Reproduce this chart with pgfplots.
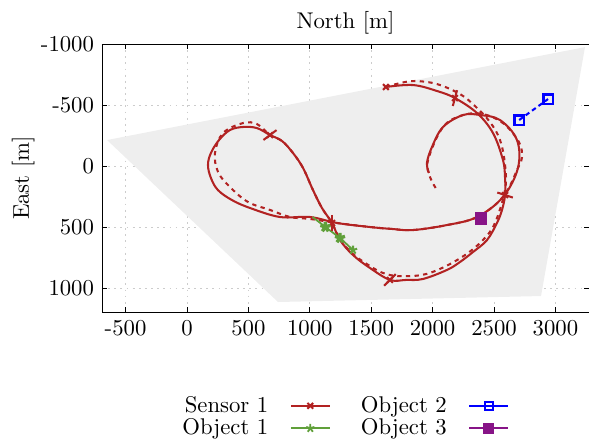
\documentclass[border=0pt]{standalone}
\usepackage{pgfplots}
\pgfplotsset{compat=1.18}
\definecolor{sred}{RGB}{178,34,34}
\definecolor{ogreen}{RGB}{96,160,58}
\definecolor{opurple}{RGB}{135,20,135}
\begin{document}
\begin{tikzpicture}[x=0.44pt,y=0.44pt]
\begin{axis}[
  scale only axis, width=214.3pt, height=117.9pt,
  at={(0,0)}, anchor=south west,
  xmin=-692, xmax=3274, ymin=-1000, ymax=1197, y dir=reverse,
  xtick={-500,0,500,1000,1500,2000,2500,3000},
  xticklabels={-500,0,500,1000,1500,2000,2500,3000},
  ytick={-1000,-500,0,500,1000},
  yticklabels={-1000,-500,0,500,1000},
  tick align=inside, tick style={black,line width=0.3pt},
  major tick length=2.2pt,
  grid=major,
  grid style={dash pattern=on 0.8pt off 1.9pt,gray!40,line width=0.4pt},
  title={North [m]},
  title style={yshift=-5.4pt},
  ylabel={East [m]},
  ylabel style={yshift=-4.1pt},
  clip=true,
  legend columns=2, transpose legend,
  legend plot pos=right,
  legend style={draw=none,fill=none,at={(0.496,-0.392)},anchor=center,
    row sep=-2.7pt,
    /tikz/every odd column/.append style={column sep=7.5pt},
    /tikz/every even column/.append style={column sep=11.3pt}},
  legend cell align=right,
]
\addplot[fill=black!6.5,draw=none,forget plot] coordinates {(-651,-213)(3241,-975)(2883,1066)(741,1115)} -- cycle;
\addplot[sred,line width=0.9pt,smooth,tension=0.6,mark=x,mark size=1.8pt,mark options={solid,line width=0.9pt},mark indices={1,4,9,18,22,28},forget plot] coordinates {
(1620,-648)(1840,-664)(2036,-615)(2182,-557)(2362,-434)(2492,-270)(2573,-49)(2590,98)(2590,238)(2565,361)(2524,467)(2443,607)(2329,705)(2223,787)(2117,852)(1922,926)(1783,934)(1653,934)(1490,836)(1352,730)(1246,607)(1181,467)(1099,344)(1026,197)(945,16)(863,-107)(774,-205)(676,-254)(570,-311)(456,-320)(350,-295)(261,-213)(195,-107)(171,-8)(195,98)(252,197)(366,279)(513,344)(757,418)(1002,418)(1221,467)(1490,500)(1669,516)(1840,525)(2117,484)(2362,418)(2573,254)(2695,16)(2687,-213)(2549,-377)(2386,-418)(2248,-418)(2085,-320)(1995,-156)(1954,-25)(1971,57)};
\addplot[sred,line width=0.9pt,mark=|,mark size=3.6pt,mark options={rotate=-15},only marks,forget plot] coordinates {(2182,-557)};
\addplot[sred,line width=0.9pt,mark=|,mark size=3.6pt,mark options={rotate=72},only marks,forget plot] coordinates {(2590,238)};
\addplot[sred,line width=0.9pt,mark=|,mark size=3.6pt,mark options={rotate=-45},only marks,forget plot] coordinates {(1653,934)};
\addplot[sred,line width=0.9pt,mark=|,mark size=3.6pt,mark options={rotate=0},only marks,forget plot] coordinates {(1181,467)};
\addplot[sred,line width=0.9pt,mark=|,mark size=3.6pt,mark options={rotate=-53},only marks,forget plot] coordinates {(676,-254)};
\addplot[sred,line width=0.9pt,smooth,tension=0.6,dash pattern=on 1.9pt off 1.9pt,forget plot] coordinates {
(1620,-648)(1735,-680)(1857,-697)(2036,-672)(2223,-590)(2345,-492)(2467,-361)(2549,-213)(2590,-8)(2590,197)(2508,467)(2410,607)(2264,730)(2077,836)(1914,893)(1718,902)(1596,877)(1490,820)(1352,722)(1246,600)(1181,467)(1099,344)(1026,197)(945,16)(863,-107)(774,-205)(676,-254)(570,-344)(456,-352)(293,-270)(228,-107)(253,49)(350,172)(497,295)(676,360)(839,418)(1002,434)(1221,467)(1490,500)(1669,516)(1840,525)(2117,484)(2362,418)(2573,254)(2695,16)(2728,-73)(2703,-197)(2573,-352)(2410,-426)(2248,-418)(2085,-320)(1963,-49)(1979,90)(2036,197)};
\addlegendimage{sred,line width=0.9pt,mark=x,mark size=1.8pt}
\addlegendentry{Sensor 1}
\addplot[ogreen,line width=0.8pt,mark=star,mark size=1.9pt,mark options={solid,line width=0.9pt},mark indices={2,3,4},forget plot] coordinates {(1023,418)(1127,500)(1246,590)(1352,689)};
\addlegendimage{ogreen,line width=0.8pt,mark=star,mark size=1.9pt}
\addlegendentry{Object 1}
\addplot[ogreen,only marks,mark=star,mark size=2.3pt,mark options={line width=1.5pt},forget plot] coordinates {(1127,500)(1246,590)};
\addplot[blue,line width=0.9pt,dash pattern=on 2pt off 1.5pt,mark=square,mark size=2.1pt,mark options={solid,line width=1.1pt},forget plot] coordinates {(2705,-377)(2940,-549)};
\addlegendimage{blue,line width=0.9pt,mark=square,mark size=1.75pt}
\addlegendentry{Object 2}
\addplot[opurple,line width=0.9pt,mark=square*,mark size=2.4pt,forget plot] coordinates {(2394,434)};
\addlegendimage{opurple,line width=0.9pt,mark=square*,mark size=2pt}
\addlegendentry{Object 3}
\end{axis}
\pgfresetboundingbox
\useasboundingbox (-102,-128) rectangle (487,312);
\end{tikzpicture}
\end{document}
